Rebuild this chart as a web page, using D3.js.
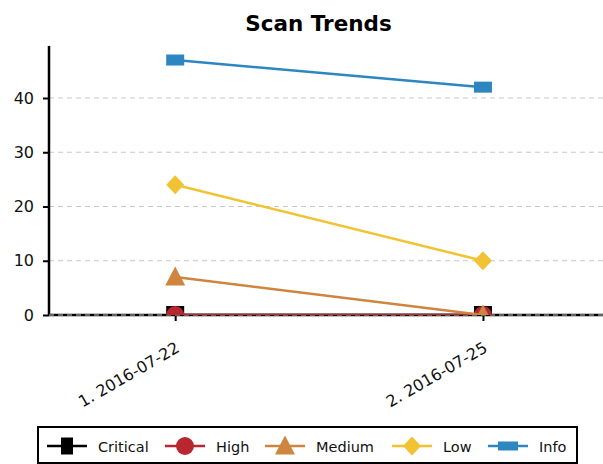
<!DOCTYPE html>
<html>
<head>
<meta charset="utf-8">
<script src="https://cdn.jsdelivr.net/npm/d3@7"></script>
<style>
  body { margin: 0; background: #fff; }
  text { font-family: "DejaVu Sans", sans-serif; }
</style>
</head>
<body>
<div class="chart"></div>
<script>
const dates = ["1. 2016-07-22", "2. 2016-07-25"];
const severities = ["Critical", "High", "Medium", "Low", "Info"];
const critical = [0, 0];
const high = [0, 0];
const medium = [7, 0];
const low = [24, 10];
const info = [47, 42];
const yTicks = [0, 10, 20, 30, 40];
const colors = ["#000000", "#b8272f", "#cd853f", "#f1c232", "#2e86c1"];
const shapes = ["square", "circle", "triangle", "diamond", "rect"];

const series = [critical, high, medium, low, info].map((vals, i) => ({
    name: severities[i], values: vals, color: colors[i], shape: shapes[i]
}));

const w = 603;
const h = 464;
const padL = 49, padR = 603, padT = 47, padB = 315;

const svg = d3.select(".chart")
    .append("svg")
    .attr("width", w)
    .attr("height", h);

const x = d3.scaleLinear().domain([-0.41, 1.39]).range([padL, padR]);
const y = d3.scaleLinear().domain([0, 49.4]).range([padB, padT]);

svg.append("text")
    .attr("x", 318.5)
    .attr("y", 31)
    .attr("text-anchor", "middle")
    .attr("font-size", 21.5)
    .attr("font-weight", "bold")
    .text("Scan Trends");

// grid
svg.append("g")
    .selectAll("line")
    .data(yTicks)
    .enter()
    .append("line")
    .attr("x1", padL)
    .attr("x2", padR)
    .attr("y1", d => y(d))
    .attr("y2", d => y(d))
    .attr("stroke", "#c8c8c8")
    .attr("stroke-width", 1)
    .attr("stroke-dasharray", "5,4");

// axes
const yAxis = svg.append("g")
    .attr("transform", `translate(${padL},0)`)
    .call(d3.axisLeft(y).tickValues(yTicks).tickSize(6).tickPadding(9));
yAxis.select(".domain").remove();
yAxis.selectAll("line").attr("stroke", "#000").attr("stroke-width", 2);
yAxis.selectAll("text").attr("font-size", 16).attr("fill", "#111");

svg.append("line")
    .attr("x1", padL).attr("x2", padL)
    .attr("y1", padT - 1).attr("y2", padB + 1)
    .attr("stroke", "#000").attr("stroke-width", 2.5);

const xAxis = svg.append("g")
    .attr("transform", `translate(0,${padB})`)
    .call(d3.axisBottom(x).tickValues([0, 1]).tickFormat(i => dates[i]).tickSize(6));
xAxis.select(".domain").remove();
xAxis.selectAll("line").attr("stroke", "#000").attr("stroke-width", 2);
xAxis.selectAll("text")
    .attr("font-size", 16)
    .attr("fill", "#111")
    .attr("text-anchor", "end")
    .attr("x", 0)
    .attr("y", 0)
    .attr("dy", 0)
    .attr("transform", "translate(5,36) rotate(-30)");

svg.append("line")
    .attr("x1", padL).attr("x2", padR)
    .attr("y1", padB).attr("y2", padB)
    .attr("stroke", "#000").attr("stroke-width", 2.5);

// zero gridline on top of the axis
svg.append("line")
    .attr("x1", padL).attr("x2", padR)
    .attr("y1", padB).attr("y2", padB)
    .attr("stroke", "#c8c8c8").attr("stroke-width", 1)
    .attr("stroke-dasharray", "5,4");

svg.append("clipPath").attr("id", "plot")
    .append("rect")
    .attr("x", padL).attr("y", padT - 20)
    .attr("width", padR - padL).attr("height", padB - padT + 20);

function marker(g, shape, color, legendMode) {
    if (shape === "square") {
        const sw = legendMode ? 12 : 18, sh = legendMode ? 17 : 18;
        g.append("rect").attr("x", -sw / 2).attr("y", -sh / 2).attr("width", sw).attr("height", sh).attr("fill", color);
    } else if (shape === "rect") {
        const sw = legendMode ? 20 : 18, sh = legendMode ? 9 : 11;
        g.append("rect").attr("x", -sw / 2).attr("y", -sh / 2).attr("width", sw).attr("height", sh).attr("fill", color);
    } else if (shape === "circle") {
        g.append("circle").attr("r", 9).attr("fill", color);
    } else if (shape === "triangle") {
        g.append("path").attr("d", "M0,-10.5L10,8.5L-10,8.5Z").attr("fill", color);
    } else if (shape === "diamond") {
        g.append("path").attr("d", "M0,-9.5L9,0L0,9.5L-9,0Z").attr("fill", color);
    }
}

const plot = svg.append("g").attr("clip-path", "url(#plot)");
const line = d3.line().x((d, i) => x(i)).y(d => y(d));

series.forEach(s => {
    const g = plot.append("g");
    g.append("path")
        .datum(s.values)
        .attr("d", line)
        .attr("fill", "none")
        .attr("stroke", s.color)
        .attr("stroke-width", 2.5);
    s.values.forEach((v, i) => {
        const m = g.append("g").attr("transform", `translate(${x(i)},${y(v)})`);
        marker(m, s.shape, s.color, false);
    });
});

// legend
const legend = svg.append("g");
legend.append("rect")
    .attr("x", 38).attr("y", 427)
    .attr("width", 539).attr("height", 36)
    .attr("fill", "#fff")
    .attr("stroke", "#000")
    .attr("stroke-width", 2);

const legendX = [47, 165, 265, 392, 488];
series.forEach((s, i) => {
    const lx = legendX[i];
    const ly = 446;
    legend.append("line")
        .attr("x1", lx).attr("x2", lx + 40)
        .attr("y1", ly).attr("y2", ly)
        .attr("stroke", s.color).attr("stroke-width", 2.5);
    const m = legend.append("g").attr("transform", `translate(${lx + 20},${ly})`);
    marker(m, s.shape, s.color, true);
    legend.append("text")
        .attr("x", lx + 51)
        .attr("y", ly + 6)
        .attr("font-size", 14.5)
        .attr("fill", "#111")
        .text(s.name);
});
</script>
</body>
</html>
